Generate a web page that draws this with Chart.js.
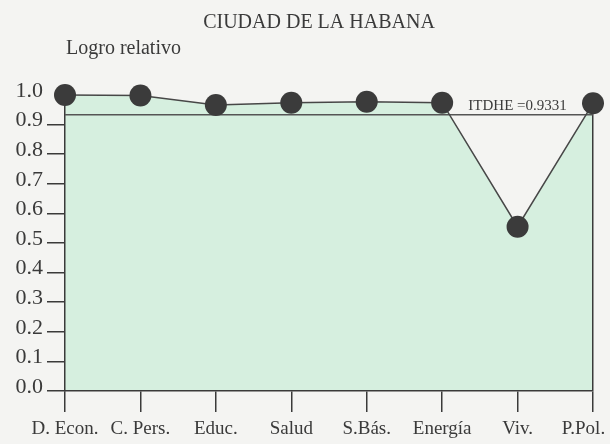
<!DOCTYPE html>
<html>
<head>
<meta charset="utf-8">
<title>Ciudad de La Habana - Logro relativo</title>
<script src="https://cdn.jsdelivr.net/npm/chart.js@4/dist/chart.umd.min.js"></script>
<style>
    html, body { margin: 0; padding: 0; background: #f4f4f2; }
    #chart { display: block; }
</style>
</head>
<body>
<canvas id="chart" width="610" height="444"></canvas>
<script>
// Dimensions and their relative achievement
const categories = ["D. Econ.", "C. Pers.", "Educ.", "Salud", "S.Bás.", "Energía", "Viv.", "P.Pol."];
const logroRelativo = [1.0, 0.998, 0.966, 0.974, 0.977, 0.974, 0.555, 0.972];
const itdhe = 0.9331;
const yTicks = [0.0, 0.1, 0.2, 0.3, 0.4, 0.5, 0.6, 0.7, 0.8, 0.9, 1.0];

const chartTitle = "CIUDAD DE LA HABANA";
const yTitle = "Logro relativo";
const itdheLabel = "ITDHE =" + itdhe.toFixed(4);

const ink = "#3a3a3a";
const serif = "'Liberation Serif', 'DejaVu Serif', serif";

// Title texts and the ITDHE caption
const decorations = {
    id: "decorations",
    afterDraw(chart) {
        const c = chart.ctx;
        const x = chart.scales.x;
        const y = chart.scales.y;
        c.save();
        c.fillStyle = ink;
        c.textBaseline = "middle";

        c.font = "20px " + serif;
        c.textAlign = "center";
        c.fillText(chartTitle, 319, 23);

        c.textAlign = "left";
        c.fillText(yTitle, 66, 49);

        // caption sits just above the reference line, over the Viv. column
        c.font = "15px " + serif;
        c.textAlign = "center";
        c.textBaseline = "bottom";
        c.fillText(itdheLabel, x.getPixelForValue(6), y.getPixelForValue(itdhe) - 1);
        c.restore();
    }
};

new Chart(document.getElementById("chart"), {
    type: "line",
    data: {
        labels: categories,
        datasets: [
            {
                label: yTitle,
                data: logroRelativo,
                borderColor: "#474747",
                borderWidth: 1.5,
                backgroundColor: "#d6efdf",
                fill: "origin",
                tension: 0,
                pointRadius: 11,
                pointBackgroundColor: "#3b3b3b",
                pointBorderColor: "#3b3b3b",
                pointBorderWidth: 0,
                clip: false
            },
            {
                label: "ITDHE",
                data: categories.map(() => itdhe),
                borderColor: "#555555",
                borderWidth: 1.5,
                fill: false,
                pointRadius: 0
            }
        ]
    },
    options: {
        responsive: false,
        animation: false,
        devicePixelRatio: 1,
        layout: {
            autoPadding: false,
            padding: { top: 95, right: 17, left: 0, bottom: 0 }
        },
        plugins: {
            legend: { display: false },
            tooltip: { enabled: false },
            // fill goes under the axes so the frame lines stay visible
            filler: { drawTime: "beforeDraw" }
        },
        scales: {
            x: {
                offset: false,
                afterFit(scale) {
                    scale.height = 53;
                    scale.paddingLeft = 0;
                    scale.paddingRight = 0;
                },
                border: { display: true, color: ink, width: 1.5 },
                grid: {
                    drawOnChartArea: true,
                    // only the right-hand edge closes the filled area
                    color: (ctx) => ctx.index === categories.length - 1 ? ink : "rgba(0,0,0,0)",
                    tickColor: ink,
                    tickLength: 21,
                    lineWidth: 1.5
                },
                ticks: {
                    color: ink,
                    padding: 6,
                    maxRotation: 0,
                    autoSkip: false,
                    font: { family: serif, size: 19 },
                    // pull the last label inward so it fits on the canvas
                    callback: (v, i) => i === categories.length - 1
                        ? categories[i] + "\u2002\u2002"
                        : categories[i]
                }
            },
            y: {
                min: 0,
                max: 1,
                afterFit(scale) { scale.width = 65; },
                afterBuildTicks(scale) {
                    scale.ticks = yTicks.map((v) => ({ value: v }));
                },
                border: { display: true, color: ink, width: 1.5 },
                grid: {
                    drawOnChartArea: false,
                    tickColor: (ctx) => ctx.tick && ctx.tick.value === 1 ? "rgba(0,0,0,0)" : ink,
                    tickLength: 18,
                    lineWidth: 1.5
                },
                ticks: {
                    color: ink,
                    padding: 4,
                    labelOffset: -4,
                    font: { family: serif, size: 22 },
                    callback: (v) => Number(v).toFixed(1)
                }
            }
        }
    },
    plugins: [decorations]
});
</script>
</body>
</html>
